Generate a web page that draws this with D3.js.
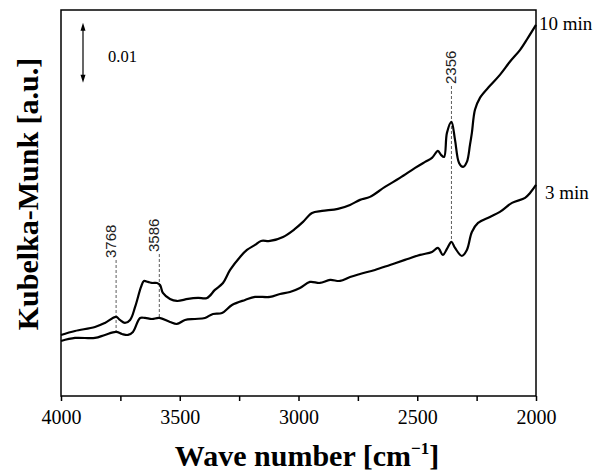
<!DOCTYPE html>
<html>
<head>
<meta charset="utf-8">
<script src="https://cdn.jsdelivr.net/npm/d3@7/dist/d3.min.js"></script>
<style>
    body { margin: 0; background: #ffffff; }
</style>
</head>
<body>
<script>
"use strict"

/* spettro dopo 10 min: numeri d'onda [cm-1] e valori Kubelka-Munk */
const numeriOnda10 = [4000, 3941, 3857, 3815, 3768, 3752, 3731, 3709, 3688, 3663, 3651, 3634, 3617, 3596,
    3583, 3571, 3541, 3512, 3465, 3423, 3385, 3352, 3318, 3288, 3246, 3217, 3183, 3158, 3120, 3065, 3015,
    2981, 2943, 2901, 2834, 2783, 2741, 2699, 2636, 2573, 2509, 2467, 2438, 2413, 2400, 2387, 2375, 2356,
    2341, 2324, 2307, 2291, 2278, 2270, 2257, 2236, 2194, 2152, 2110, 2067, 2034, 2000];
const valori10 = [0.01017, 0.01083, 0.0115, 0.01217, 0.01317, 0.01267, 0.01217, 0.01267, 0.01483, 0.01817,
    0.01917, 0.019, 0.01883, 0.01883, 0.0185, 0.01717, 0.01617, 0.01583, 0.01617, 0.01633, 0.01633, 0.01767,
    0.01883, 0.021, 0.02317, 0.02433, 0.02517, 0.02583, 0.02583, 0.0265, 0.02783, 0.029, 0.0305, 0.03083,
    0.03117, 0.03183, 0.03267, 0.03317, 0.03483, 0.03633, 0.038, 0.039, 0.03967, 0.04083, 0.04017, 0.03983,
    0.04383, 0.04567, 0.04267, 0.03883, 0.03817, 0.039, 0.04183, 0.04383, 0.04767, 0.04967, 0.05167, 0.0535,
    0.05567, 0.05767, 0.05967, 0.06183];

/* spettro dopo 3 min */
const numeriOnda3 = [4000, 3941, 3857, 3815, 3768, 3743, 3718, 3697, 3667, 3646, 3617, 3586, 3541, 3512,
    3478, 3436, 3394, 3360, 3322, 3280, 3225, 3183, 3120, 3078, 3036, 2994, 2952, 2910, 2867, 2825, 2783,
    2741, 2678, 2615, 2552, 2488, 2438, 2413, 2392, 2375, 2356, 2341, 2312, 2291, 2270, 2244, 2194, 2152,
    2101, 2046, 2025, 2000];
const valori3 = [0.00917, 0.00967, 0.00967, 0.01017, 0.01067, 0.01033, 0.01017, 0.01067, 0.013, 0.013,
    0.01283, 0.013, 0.01233, 0.012, 0.01267, 0.01283, 0.013, 0.01367, 0.01383, 0.01517, 0.016, 0.0165, 0.0165,
    0.017, 0.01733, 0.018, 0.019, 0.01883, 0.01933, 0.01917, 0.01983, 0.02033, 0.021, 0.02183, 0.02267, 0.0235,
    0.024, 0.02467, 0.0235, 0.0245, 0.02567, 0.02467, 0.02333, 0.02433, 0.02733, 0.02883, 0.02983, 0.03067,
    0.03217, 0.033, 0.03383, 0.03517];

/* picchi segnati con linea tratteggiata */
const picchi = [3768, 3586, 2356];
/* tacche dell'asse x (solo i multipli di 500 hanno l'etichetta) */
const tacche = [4000, 3750, 3500, 3250, 3000, 2750, 2500, 2250, 2000];
const etichetteTacche = ["4000", "", "3500", "", "3000", "", "2500", "", "2000"];
const nomiSerie = ["10 min", "3 min"];
/* lunghezza della freccia di scala */
const scalaKM = 0.01;

const serie = [
    numeriOnda10.map(function (n, i) { return { n: n, v: valori10[i] } }),
    numeriOnda3.map(function (n, i) { return { n: n, v: valori3[i] } })
];

const grafico = { larghezza: 593, altezza: 471, sx: 61, dx: 536, alto: 10, basso: 396 };
const serif = "'Liberation Serif', 'Times New Roman', serif";

const x = d3.scaleLinear().domain([4000, 2000]).range([grafico.sx, grafico.dx]);
const y = d3.scaleLinear().domain([0, 0.0643]).range([grafico.basso, grafico.alto]);

const svg = d3.select("body")
    .append("svg")
    .attr("width", grafico.larghezza)
    .attr("height", grafico.altezza)
    .style("background", "#fff");

/* asse x con tacche verso l'esterno */
const asseX = svg.append("g")
    .attr("transform", "translate(0," + grafico.basso + ")")
    .call(d3.axisBottom(x)
        .tickValues(tacche)
        .tickFormat(function (d, i) { return etichetteTacche[i] })
        .tickSizeInner(5)
        .tickSizeOuter(0)
        .tickPadding(9));
asseX.select(".domain").remove();
asseX.selectAll("line").attr("stroke", "#000").attr("stroke-width", 1.5);
asseX.selectAll("text")
    .attr("font-family", serif)
    .attr("font-size", 20)
    .attr("fill", "#000");

/* cornice */
svg.append("rect")
    .attr("x", grafico.sx)
    .attr("y", grafico.alto)
    .attr("width", grafico.dx - grafico.sx)
    .attr("height", grafico.basso - grafico.alto)
    .attr("fill", "none")
    .attr("stroke", "#000")
    .attr("stroke-width", 1.5);

/* linee tratteggiate dei picchi, dalla etichetta alla curva dei 3 min */
const cimaLinea = { 3768: 260, 3586: 254, 2356: 86 };
const bisetta = d3.bisector(function (d) { return -d.n }).left;
function valoreA(dati, n) {
    const i = bisetta(dati, -n);
    const a = dati[Math.max(i - 1, 0)], b = dati[Math.min(i, dati.length - 1)];
    if (a.n == b.n) return a.v;
    return a.v + (b.v - a.v) * (a.n - n) / (a.n - b.n);
}
svg.selectAll("line.picco")
    .data(picchi)
    .enter()
    .append("line")
    .attr("class", "picco")
    .attr("x1", function (d) { return x(d) })
    .attr("x2", function (d) { return x(d) })
    .attr("y1", function (d) { return cimaLinea[d] })
    .attr("y2", function (d) { return y(valoreA(serie[1], d)) })
    .attr("stroke", "#333")
    .attr("stroke-width", 0.8)
    .attr("stroke-dasharray", "3,2");

/* etichette dei picchi, ruotate */
const spostaX = { 3768: 0, 3586: 0, 2356: 5 };
svg.selectAll("text.picco")
    .data(picchi)
    .enter()
    .append("text")
    .attr("class", "picco")
    .attr("transform", function (d) {
        return "translate(" + (x(d) + spostaX[d]) + "," + (cimaLinea[d] - 2) + ") rotate(-90)"
    })
    .attr("font-family", "'Liberation Sans', Arial, sans-serif")
    .attr("font-size", 15)
    .attr("fill", "#222")
    .text(function (d) { return d });

/* curve degli spettri */
const linea = d3.line()
    .x(function (d) { return x(d.n) })
    .y(function (d) { return y(d.v) })
    .curve(d3.curveCatmullRom.alpha(0.5));
svg.selectAll("path.spettro")
    .data(serie)
    .enter()
    .append("path")
    .attr("class", "spettro")
    .attr("d", linea)
    .attr("fill", "none")
    .attr("stroke", "#000")
    .attr("stroke-width", 2.2)
    .attr("stroke-linejoin", "round");

/* nomi delle serie a destra */
const posNomi = [{ dx: 3, dy: 5 }, { dx: 9, dy: 14 }];
svg.selectAll("text.nome")
    .data(nomiSerie)
    .enter()
    .append("text")
    .attr("class", "nome")
    .attr("x", function (d, i) { return grafico.dx + posNomi[i].dx })
    .attr("y", function (d, i) { return y(serie[i][serie[i].length - 1].v) + posNomi[i].dy })
    .attr("font-family", serif)
    .attr("font-size", 19)
    .attr("fill", "#000")
    .text(function (d) { return d });

/* freccia di scala 0.01 */
const fy0 = y(0.06217), fy1 = y(0.06217 - scalaKM), fx = 83;
svg.append("line")
    .attr("x1", fx).attr("x2", fx)
    .attr("y1", fy0 + 4).attr("y2", fy1 - 4)
    .attr("stroke", "#000")
    .attr("stroke-width", 1.2);
svg.append("path")
    .attr("d", "M" + fx + "," + fy0 + "l-2.5,8h5z M" + fx + "," + fy1 + "l-2.5,-8h5z")
    .attr("fill", "#000");
svg.append("text")
    .attr("x", 108)
    .attr("y", 62)
    .attr("font-family", serif)
    .attr("font-size", 16.5)
    .attr("fill", "#000")
    .text(d3.format(".2f")(scalaKM));

/* titoli degli assi */
const titoloX = svg.append("text")
    .attr("x", 307)
    .attr("y", 466)
    .attr("text-anchor", "middle")
    .attr("font-family", serif)
    .attr("font-weight", "bold")
    .attr("font-size", 30)
    .attr("fill", "#000");
titoloX.append("tspan").text("Wave number [cm");
titoloX.append("tspan").attr("font-size", 17).attr("dy", -12).text("\u22121");
titoloX.append("tspan").attr("dy", 12).text("]");

svg.append("text")
    .attr("transform", "translate(38,194) rotate(-90)")
    .attr("text-anchor", "middle")
    .attr("font-family", serif)
    .attr("font-weight", "bold")
    .attr("font-size", 30)
    .attr("fill", "#000")
    .text("Kubelka-Munk [a.u.]");
</script>
</body>
</html>
